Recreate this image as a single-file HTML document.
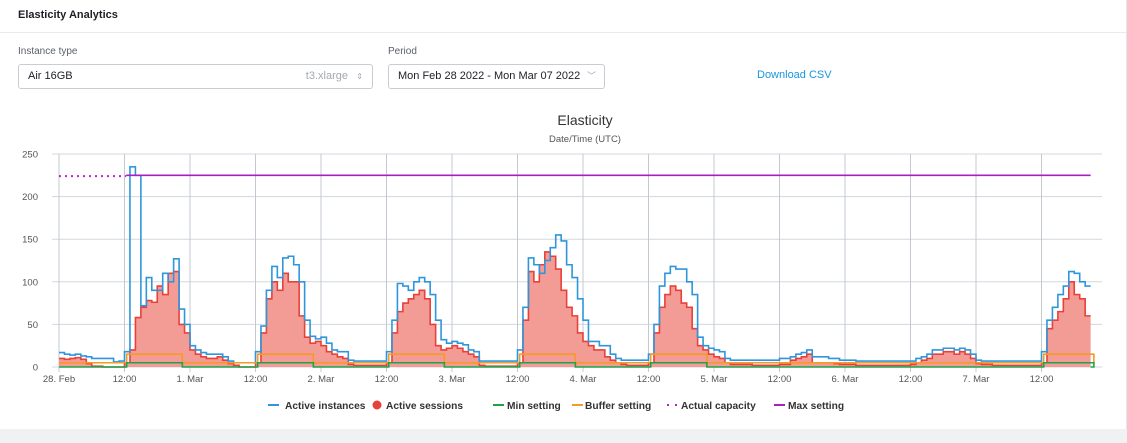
<!DOCTYPE html>
<html><head><meta charset="utf-8">
<style>
body{margin:0;width:1127px;height:443px;background:#f0f1f3;font-family:"Liberation Sans",sans-serif;position:relative;overflow:hidden}
.card{position:absolute;left:0;top:0;width:1126px;height:429px;background:#fff;border-right:1px solid #e4e6ea}
.hdr{position:absolute;left:18px;top:9px;font-size:11px;font-weight:bold;color:#1d1f24}
.div{position:absolute;left:0;top:32px;width:1126px;height:1px;background:#e8eaed}
.lbl{position:absolute;top:46px;font-size:10px;color:#5a5f68}
.box{position:absolute;top:64px;height:25px;border:1px solid #c9ccd2;border-radius:3px;font-size:11px;color:#1d1f24;box-sizing:border-box;line-height:23px;padding-left:9px}
.dl{position:absolute;left:757px;top:69px;font-size:11px;color:#1a95dd}
svg{position:absolute;left:0;top:0}
</style></head><body>
<div class="card">
<div class="hdr">Elasticity Analytics</div>
<div class="div"></div>
<div class="lbl" style="left:18px">Instance type</div>
<div class="box" style="left:18px;width:355px">Air 16GB<span style="position:absolute;right:24px;color:#a5a9b0">t3.xlarge</span><span style="position:absolute;right:9px;color:#a5a9b0;font-size:8px">⇕</span></div>
<div class="lbl" style="left:388px">Period</div>
<div class="box" style="left:388px;width:217px">Mon Feb 28 2022 - Mon Mar 07 2022<span style="position:absolute;right:8px;color:#a5a9b0;font-size:9px">﹀</span></div>
<div class="dl">Download CSV</div>
</div>
<svg id="chart" width="1127" height="443"></svg>
<script>
const instances=[17,15,14,15,13,12,10,10,10,10,6,7,18,235,225,72,105,90,90,110,100,127,68,50,
25,20,17,15,15,15,12,7,5,5,5,5,18,48,90,118,105,128,130,120,100,55,36,33,
35,28,20,18,18,8,7,7,7,7,7,7,18,55,98,95,90,100,105,100,85,55,32,28,
30,28,26,20,18,7,7,7,7,7,7,7,20,70,128,120,110,125,140,155,148,120,105,80,
55,30,30,25,25,15,10,8,8,8,8,8,15,50,95,110,118,115,115,100,85,35,25,22,
20,18,10,8,8,8,8,8,8,8,8,8,10,10,12,15,17,20,12,12,12,10,10,8,
8,8,7,7,7,7,7,7,7,7,7,7,7,10,12,15,20,20,22,22,20,22,20,15,
8,7,7,7,7,7,7,7,7,7,7,7,18,55,70,85,95,112,110,100,95];
const sessions=[10,9,10,11,9,4,1,1,0,0,0,0,5,20,58,70,78,76,95,85,110,112,50,40,
20,15,12,10,10,12,8,4,2,0,0,0,5,40,80,100,90,110,100,100,60,35,28,30,
25,18,15,12,10,3,2,2,2,2,2,2,5,40,65,75,80,85,90,80,50,25,20,22,
25,22,18,15,12,2,1,1,1,1,1,1,5,55,112,100,120,135,130,115,90,70,60,40,
30,25,20,20,12,8,5,3,2,2,2,2,5,40,70,85,95,90,75,70,45,25,20,15,
12,10,5,3,3,3,3,2,2,2,2,2,3,3,8,10,12,15,5,5,5,5,4,3,
3,3,2,2,2,2,2,2,2,2,2,2,3,5,8,10,15,15,18,18,15,18,15,10,
4,3,3,2,2,2,2,2,2,2,2,2,5,45,55,65,80,100,85,80,60];
const windowStarts=[12.4,36.4,60.4,84.4,108.4,180.4];
const windowEnds=[22.6,46.6,70.6,94.6,118.7,189.6];
const minHigh=5, minLow=0, bufHigh=15, bufLow=5;
const actualCapacity=224, maxSetting=225, capacityEndHour=12.3;
const yTicks=[0,50,100,150,200,250];
const xTickLabels=["28. Feb","12:00","1. Mar","12:00","2. Mar","12:00","3. Mar","12:00","4. Mar","12:00","5. Mar","12:00","6. Mar","12:00","7. Mar","12:00"];

const X0=59,PXH=131/24,Y0=367,PXU=213/250;
const xs=h=>X0+h*PXH, ys=v=>Y0-v*PXU;
const svg=document.getElementById('chart');const NS='http://www.w3.org/2000/svg';
function mk(t,a,p){const e=document.createElementNS(NS,t);for(const k in a)e.setAttribute(k,a[k]);(p||svg).appendChild(e);return e;}
let e;
e=mk('text',{x:585,y:125,'text-anchor':'middle','font-size':14,fill:'#333'});e.textContent='Elasticity';


e=mk('text',{x:585,y:142,'text-anchor':'middle','font-size':9.5,fill:'#555'});e.textContent='Date/Time (UTC)';


yTicks.forEach(v=>{
 e=mk('line',{x1:52,x2:1102,y1:ys(v),y2:ys(v),stroke:'#d3d7de','stroke-width':1});
 
 
 e=mk('text',{x:38,y:ys(v)+3.5,'text-anchor':'end','font-size':9.5,fill:'#555'});e.textContent=v;
 
 
});
xTickLabels.forEach((l,i)=>{
 const x=xs(i*12);
 e=mk('line',{x1:x,x2:x,y1:154,y2:372,stroke:'#c3c8d1','stroke-width':1});
 
 
 e=mk('text',{x:x,y:382,'text-anchor':'middle','font-size':9.5,fill:'#555'});e.textContent=l;
 
 
});
function stepPath(arr){let d='';arr.forEach((v,i)=>{d+=(i?'L':'M')+xs(i)+','+ys(v)+'L'+xs(i+1)+','+ys(v);});return d;}
const sp=stepPath(sessions);
e=mk('path',{d:sp+'L'+xs(sessions.length)+','+Y0+'L'+xs(0)+','+Y0+'Z',fill:'#f39c96',stroke:'none'});


e=mk('path',{d:sp,fill:'none',stroke:'#e8413a','stroke-width':1.6});


e=mk('path',{d:stepPath(instances),fill:'none',stroke:'#2e96dd','stroke-width':1.6});


function settingPath(hi,lo){
 let d='M'+xs(0)+','+ys(lo);
 windowStarts.forEach((s,i)=>{d+='L'+xs(s)+','+ys(lo)+'L'+xs(s)+','+ys(hi)+'L'+xs(windowEnds[i])+','+ys(hi)+'L'+xs(windowEnds[i])+','+ys(lo);});
 d+='L'+xs(instances.length)+','+ys(lo);return d;}
e=mk('path',{d:settingPath(bufHigh,bufLow),fill:'none',stroke:'#f59a23','stroke-width':1.6});


e=mk('path',{d:settingPath(minHigh,minLow),fill:'none',stroke:'#1ea34c','stroke-width':1.6});


e=mk('line',{x1:xs(0),x2:xs(capacityEndHour),y1:ys(actualCapacity),y2:ys(actualCapacity),stroke:'#c21fd0','stroke-width':2,'stroke-dasharray':'2,4'});


e=mk('line',{x1:xs(capacityEndHour),x2:xs(instances.length),y1:ys(maxSetting),y2:ys(maxSetting),stroke:'#a81fc4','stroke-width':1.6});


const leg=[["Active instances",'#2e96dd','line',268,285],["Active sessions",'#e8413a','dot',372,386],["Min setting",'#1ea34c','line',493,507],["Buffer setting",'#f59a23','line',572,585],["Actual capacity",'#c21fd0','dot2',667,681],["Max setting",'#a81fc4','line',774,788]];
leg.forEach(l=>{
 const g=mk('g',{});
 
 
 if(l[2]=='line')mk('line',{x1:l[3],x2:l[3]+11,y1:405,y2:405,stroke:l[1],'stroke-width':2},g);
 else if(l[2]=='dot')mk('circle',{cx:l[3]+5,cy:405,r:4.5,fill:l[1]},g);
 else mk('line',{x1:l[3],x2:l[3]+11,y1:405,y2:405,stroke:l[1],'stroke-width':2,'stroke-dasharray':'2,6'},g);
 const t=mk('text',{x:l[4],y:409,'font-size':10.2,'font-weight':'bold',fill:'#333'},g);t.textContent=l[0];
});
</script>
</body></html>
